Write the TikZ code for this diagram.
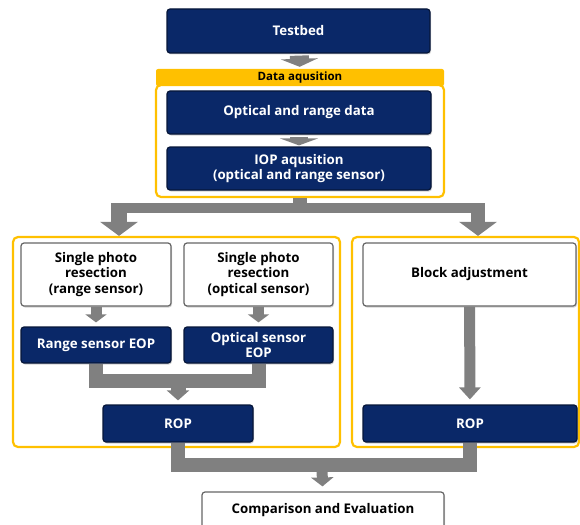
\documentclass[tikz,border=0pt]{standalone}
\usepackage{fontspec}
\setmainfont{Open Sans}
\usetikzlibrary{arrows.meta,shadows}
\definecolor{navy}{HTML}{0A2868}
\definecolor{amber}{HTML}{FFC000}
\definecolor{pipegray}{HTML}{808080}
\begin{document}
\begin{tikzpicture}[x=1pt,y=-1pt,
  navybox/.style={fill=navy,draw=navy!55!black,line width=1.2pt,rounded corners=3pt,text=white,
    font=\bfseries\fontsize{13.3}{15.2}\selectfont,align=center,inner sep=0pt,
    drop shadow={shadow xshift=1pt,shadow yshift=-1.5pt,opacity=.35}},
  whitebox/.style={navybox,fill=white,draw=black!60,text=black},
  panel/.style={draw=amber,line width=2.2pt,rounded corners=5pt,inner sep=0pt},
  tabbox/.style={fill=amber,rounded corners=2pt,inner sep=0pt,font=\bfseries\fontsize{11.5}{13}\selectfont},
  pipe/.style={draw=pipegray,line width=#1},
  blockarrow/.style n args={3}{draw=pipegray,line width=#1,-{Triangle[width=#2,length=#3]}}]
\useasboundingbox (0,0) rectangle (580,524);
\clip (0,0) rectangle (580,524);

% panels
\node[tabbox,minimum width=288pt,minimum height=17pt] (daqtab) at (300,77.5) {Data aqusition};
\node[panel,minimum width=288pt,minimum height=112pt] (daq) at (300,141) {};
\node[panel,minimum width=327pt,minimum height=210pt] (lpanel) at (176.5,342) {};
\node[panel,minimum width=227pt,minimum height=210pt] (rpanel) at (465.5,342) {};

% boxes
\node[navybox,minimum width=263pt,minimum height=44pt] (testbed) at (298.5,31) {Testbed};
\node[navybox,minimum width=264pt,minimum height=43pt] (optdata) at (299,112.5) {Optical and range data};
\node[navybox,minimum width=264pt,minimum height=43pt] (iop) at (299,168.5) {IOP aqusition\\(optical and range sensor)};
\node[whitebox,minimum width=150pt,minimum height=63pt] (spr) at (96,274.5) {Single photo\\resection\\(range sensor)};
\node[whitebox,minimum width=149pt,minimum height=63pt] (spo) at (258.5,274.5) {Single photo\\resection\\(optical sensor)};
\node[whitebox,minimum width=213pt,minimum height=63pt] (block) at (469.5,274.5) {Block adjustment};
\node[navybox,minimum width=150pt,minimum height=36pt] (reop) at (96,345) {Range sensor EOP};
\node[navybox,minimum width=149pt,minimum height=36pt] (oeop) at (258.5,345) {Optical sensor\\EOP};
\node[navybox,minimum width=150pt,minimum height=37pt] (ropl) at (178,423.5) {ROP};
\node[navybox,minimum width=214pt,minimum height=37pt] (ropr) at (470,423.5) {ROP};
\node[whitebox,minimum width=242pt,minimum height=36pt] (comp) at (323,510) {Comparison and Evaluation};

% connectors
\coordinate (split) at (300,208);
\coordinate (splitl) at (119,208);
\coordinate (splitr) at (478,208);
\coordinate (mergel) at (178,381);
\coordinate (mergeb) at (322,465);

\draw[blockarrow={19pt}{37pt}{8pt},shorten <=2pt,shorten >=2pt] (testbed) -- (daqtab);
\draw[blockarrow={18pt}{38pt}{7pt},shorten <=2pt,shorten >=1pt] (optdata) -- (iop);
\draw[pipe=14pt] (daq) -- (split);
\draw[pipe=10pt] (splitl) -- (splitr);
\draw[blockarrow={16pt}{37pt}{14pt}] ([yshift=5pt]splitl) -- (splitl |- lpanel.north);
\draw[blockarrow={14pt}{37pt}{14pt}] ([yshift=5pt]splitr) -- (splitr |- rpanel.north);
\draw[blockarrow={11pt}{21pt}{8pt},shorten >=4pt] (spr) -- (reop);
\draw[blockarrow={11pt}{21pt}{8pt},shorten >=4pt] (spo) -- (oeop);
\draw[pipe=14pt] (reop) |- (mergel);
\draw[pipe=14pt] (oeop) |- (mergel);
\draw[blockarrow={15pt}{22pt}{10pt},shorten >=4pt] (mergel) -- (ropl);
\draw[blockarrow={11pt}{21pt}{12pt},shorten >=5pt] (block) -- (ropr);
\draw[pipe=14pt] (ropl) |- (mergeb) -| (ropr);
\draw[blockarrow={11pt}{22pt}{9pt},shorten >=5pt] (mergeb) -- (comp);
\end{tikzpicture}
\end{document}
